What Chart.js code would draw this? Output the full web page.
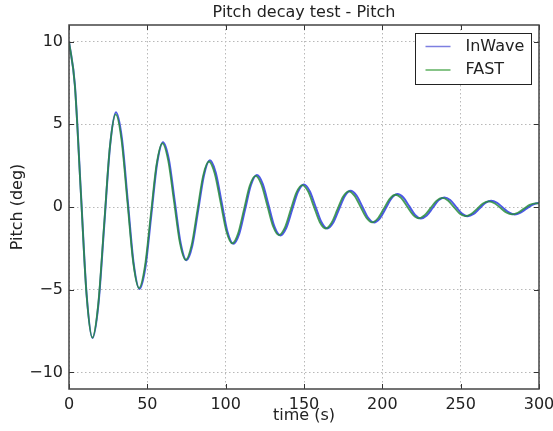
<!DOCTYPE html>
<html>
<head>
<meta charset="utf-8">
<script src="https://cdn.jsdelivr.net/npm/chart.js@4.4.1/dist/chart.umd.min.js"></script>
<style>
  html, body { margin: 0; padding: 0; background: #fff; }
</style>
</head>
<body>
<canvas id="pitch" width="553" height="431"></canvas>
<script>
// pitch free-decay: InWave vs FAST, time in s, pitch in deg
const inwaveTime = [
  0, 3.75, 7.5, 11.25, 15, 18.75, 22.5, 26.25, 30, 33.75, 37.5, 41.25, 45,
  48.75, 52.5, 56.25, 60, 63.75, 67.5, 71.25, 75, 78.7, 82.45, 86.2, 89.9,
  93.65, 97.4, 101.15, 104.9, 108.65, 112.4, 116.15, 119.9, 123.65, 127.4, 131.15, 134.9,
  138.65, 142.4, 146.15, 149.9, 153.6, 157.35, 161.1, 164.8, 168.5, 172.25, 176, 179.7,
  183.45, 187.2, 190.95, 194.7, 198.45, 202.2, 205.95, 209.7, 213.4, 217.15, 220.9, 224.6,
  228.35, 232.1, 235.85, 239.6, 243.3, 247.05, 250.8, 254.5, 258.25, 262, 265.75, 269.5,
  273.25, 277, 280.75, 284.5, 288.25, 292, 295.75, 299.5, 300
];
const inwavePitch = [
  10, 7.38, 1.04, -5.30, -7.92, -5.92, -1.10, 3.72, 5.72, 4.16, 0.39, -3.39, -4.95,
  -3.66, -0.52, 2.63, 3.92, 2.88, 0.35, -2.18, -3.22, -2.34, -0.20, 1.94, 2.82,
  2.09, 0.30, -1.49, -2.22, -1.62, -0.15, 1.33, 1.93, 1.40, 0.11, -1.19, -1.72,
  -1.27, -0.18, 0.91, 1.36, 0.97, 0.03, -0.91, -1.30, -0.97, -0.16, 0.65, 0.98,
  0.70, 0.03, -0.65, -0.93, -0.68, -0.08, 0.53, 0.78, 0.57, 0.05, -0.48, -0.69,
  -0.51, -0.06, 0.40, 0.58, 0.42, 0.01, -0.40, -0.56, -0.42, -0.09, 0.24, 0.38,
  0.25, -0.04, -0.32, -0.45, -0.34, -0.10, 0.13, 0.24, 0.24
];
const fastTime = [
  0, 3.7, 7.45, 11.2, 14.9, 18.6, 22.35, 26.1, 29.8, 33.5, 37.25, 41, 44.7,
  48.4, 52.15, 55.9, 59.6, 63.3, 67.05, 70.8, 74.5, 78.2, 81.9, 85.6, 89.3,
  93, 96.75, 100.5, 104.2, 107.9, 111.65, 115.4, 119.1, 122.8, 126.55, 130.3, 134,
  137.7, 141.45, 145.2, 148.9, 152.6, 156.35, 160.1, 163.8, 167.5, 171.2, 174.9, 178.6,
  182.3, 186.05, 189.8, 193.5, 197.2, 200.95, 204.7, 208.4, 212.1, 215.85, 219.6, 223.3,
  227, 230.75, 234.5, 238.2, 241.9, 245.6, 249.3, 253, 256.7, 260.45, 264.2, 267.9,
  271.6, 275.35, 279.1, 282.8, 286.5, 290.25, 294, 297.7, 300
];
const fastPitch = [
  10, 7.39, 1.05, -5.29, -7.90, -5.93, -1.15, 3.63, 5.60, 4.07, 0.35, -3.36, -4.90,
  -3.62, -0.53, 2.57, 3.85, 2.82, 0.33, -2.17, -3.20, -2.33, -0.23, 1.88, 2.75,
  2.03, 0.28, -1.48, -2.20, -1.61, -0.16, 1.29, 1.88, 1.36, 0.09, -1.18, -1.70,
  -1.26, -0.19, 0.88, 1.32, 0.94, 0.01, -0.92, -1.30, -0.97, -0.18, 0.62, 0.95,
  0.67, 0.01, -0.65, -0.93, -0.68, -0.10, 0.49, 0.74, 0.53, 0.03, -0.47, -0.68,
  -0.50, -0.07, 0.37, 0.55, 0.39, 0.00, -0.39, -0.55, -0.42, -0.11, 0.21, 0.34,
  0.23, -0.05, -0.33, -0.44, -0.35, -0.11, 0.13, 0.22, 0.21
];
const xTicks = [0, 50, 100, 150, 200, 250, 300];
const yTicks = [-10, -5, 0, 5, 10];

const FONT = '"DejaVu Sans", sans-serif';
const INK = '#222';

const toPoints = (xs, ys) => xs.map((x, i) => ({x: x, y: ys[i]}));

// matplotlib-style box: frame, inward ticks, titles and legend
const decorations = {
  id: 'decorations',
  afterDraw(chart) {
    const {ctx, chartArea: a, scales} = chart;
    const xs = scales.x, ys = scales.y;
    ctx.save();

    ctx.strokeStyle = '#333';
    ctx.lineWidth = 1;
    ctx.beginPath();
    xTicks.forEach(v => {
      const px = Math.round(xs.getPixelForValue(v)) + 0.5;
      ctx.moveTo(px, a.top); ctx.lineTo(px, a.top + 5);
      ctx.moveTo(px, a.bottom); ctx.lineTo(px, a.bottom - 5);
    });
    yTicks.forEach(v => {
      const py = Math.round(ys.getPixelForValue(v)) + 0.5;
      ctx.moveTo(a.left, py); ctx.lineTo(a.left + 5, py);
      ctx.moveTo(a.right, py); ctx.lineTo(a.right - 5, py);
    });
    ctx.stroke();

    ctx.strokeStyle = '#444';
    ctx.lineWidth = 1.5;
    ctx.strokeRect(a.left, a.top, a.right - a.left, a.bottom - a.top);

    const cx = (a.left + a.right) / 2;
    ctx.fillStyle = INK;
    ctx.font = '16px ' + FONT;
    ctx.textAlign = 'center';
    ctx.textBaseline = 'middle';
    ctx.fillText('Pitch decay test - Pitch', cx, 13);
    ctx.fillText('time (s)', cx, 416);
    ctx.save();
    ctx.translate(18, (a.top + a.bottom) / 2);
    ctx.rotate(-Math.PI / 2);
    ctx.fillText('Pitch (deg)', 0, 0);
    ctx.restore();

    // legend box in the upper right corner
    const bx = 415.5, by = 33.5, bw = 116, bh = 51;
    ctx.fillStyle = '#fff';
    ctx.fillRect(bx, by, bw, bh);
    ctx.strokeStyle = '#222';
    ctx.lineWidth = 1;
    ctx.strokeRect(bx, by, bw, bh);
    ctx.textAlign = 'left';
    chart.data.datasets.forEach((ds, i) => {
      const ly = by + 13 + i * 23.5;
      ctx.strokeStyle = ds.legendColor;
      ctx.lineWidth = 1.5;
      ctx.beginPath();
      ctx.moveTo(bx + 10, ly); ctx.lineTo(bx + 35, ly);
      ctx.stroke();
      ctx.fillStyle = INK;
      ctx.fillText(ds.label, bx + 50, ly);
    });
    ctx.restore();
  }
};

new Chart(document.getElementById('pitch'), {
  type: 'line',
  data: {
    datasets: [
      {
        label: 'InWave',
        data: toPoints(inwaveTime, inwavePitch),
        borderColor: 'rgba(45, 60, 225, 0.85)',
        legendColor: '#7d7fe0',
        borderWidth: 2,
        order: 1
      },
      {
        label: 'FAST',
        data: toPoints(fastTime, fastPitch),
        borderColor: 'rgba(40, 140, 60, 0.85)',
        legendColor: '#5fb060',
        borderWidth: 1.8,
        order: 0
      }
    ]
  },
  options: {
    responsive: false,
    animation: false,
    events: [],
    layout: {padding: {top: 25, right: 14, left: 0, bottom: 0}},
    elements: {
      point: {radius: 0},
      line: {cubicInterpolationMode: 'monotone', fill: false}
    },
    plugins: {legend: {display: false}, tooltip: {enabled: false}, title: {display: false}},
    scales: {
      x: {
        type: 'linear',
        min: 0,
        max: 300,
        afterFit: s => { s.height = 42; s.paddingLeft = 0; s.paddingRight = 0; },
        afterBuildTicks: s => { s.ticks = xTicks.map(v => ({value: v})); },
        grid: {color: '#b8b8b8', lineWidth: 1, drawTicks: false},
        border: {display: false, dash: [1.5, 2.5]},
        ticks: {color: INK, padding: 6, maxRotation: 0, font: {family: FONT, size: 16}}
      },
      y: {
        type: 'linear',
        min: -11,
        max: 11,
        afterFit: s => { s.width = 69; s.paddingTop = 0; s.paddingBottom = 0; },
        afterBuildTicks: s => { s.ticks = yTicks.map(v => ({value: v})); },
        grid: {color: '#b8b8b8', lineWidth: 1, drawTicks: false},
        border: {display: false, dash: [1.5, 2.5]},
        ticks: {
          color: INK,
          padding: 6,
          font: {family: FONT, size: 16},
          callback: v => String(v).replace('-', '\u2212')
        }
      }
    }
  },
  plugins: [decorations]
});
</script>
</body>
</html>
